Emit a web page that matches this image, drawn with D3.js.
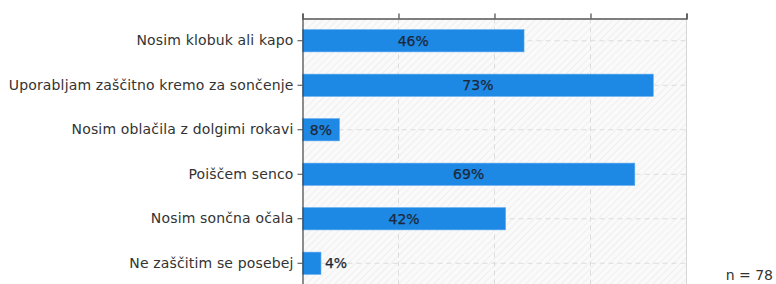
<!DOCTYPE html>
<html>
<head>
<meta charset="utf-8">
<script src="https://cdn.jsdelivr.net/npm/d3@7"></script>
<style>
body { margin: 0; background: #fff; }
svg { display: block; }
</style>
</head>
<body>
<svg id="chart" width="776" height="284"></svg>
<script>
// answers and counts (n = 78)
var categories = [
    "Nosim klobuk ali kapo",
    "Uporabljam zaščitno kremo za sončenje",
    "Nosim oblačila z dolgimi rokavi",
    "Poiščem senco",
    "Nosim sončna očala",
    "Ne zaščitim se posebej"
];
var counts = [36, 57, 6, 54, 33, 3];
var total = 78;
var xTicks = [0, 20, 40, 60, 80];

var data = categories.map(function(c, i) {
    return {name: c, pct: counts[i] / total * 100};
});

var margin = {top: 18.5, left: 302.5};
var width = 384, height = 267;

var svg = d3.select("#chart");

// hatch pattern for plot background
var defs = svg.append("defs");
var pat = defs.append("pattern")
    .attr("id", "hatch")
    .attr("patternUnits", "userSpaceOnUse")
    .attr("width", 5).attr("height", 5)
    .attr("patternTransform", "rotate(45)");
pat.append("rect").attr("width", 5).attr("height", 5).attr("fill", "#fafafa");
pat.append("line")
    .attr("x1", 0).attr("y1", 0).attr("x2", 0).attr("y2", 5)
    .attr("stroke", "#e8e8e8").attr("stroke-width", 1.2);

var g = svg.append("g")
    .attr("transform", "translate(" + margin.left + "," + margin.top + ")");

var x = d3.scaleLinear().domain([0, 80]).range([0, width]);
var y = d3.scaleBand()
    .domain(categories)
    .range([0, height])
    .paddingInner(0.5)
    .paddingOuter(0.25);

g.append("rect")
    .attr("width", width).attr("height", height + 10)
    .attr("fill", "url(#hatch)");

// grid
g.selectAll(".vgrid").data(xTicks.slice(1, -1)).enter().append("line")
    .attr("x1", function(d) { return x(d); }).attr("x2", function(d) { return x(d); })
    .attr("y1", 0).attr("y2", height + 10)
    .attr("stroke", "#dcdcdc").attr("stroke-dasharray", "5,4");

g.selectAll(".hgrid").data(categories).enter().append("line")
    .attr("x1", 0).attr("x2", width)
    .attr("y1", function(d) { return y(d) + y.bandwidth() / 2; })
    .attr("y2", function(d) { return y(d) + y.bandwidth() / 2; })
    .attr("stroke", "#dcdcdc").attr("stroke-dasharray", "5,4");

g.append("line")
    .attr("x1", width).attr("x2", width).attr("y1", 0).attr("y2", height + 10)
    .attr("stroke", "#d6d6d6");

// bars
g.selectAll(".bar").data(data).enter().append("rect")
    .attr("class", "bar")
    .attr("x", 0)
    .attr("y", function(d) { return y(d.name); })
    .attr("width", function(d) { return x(d.pct); })
    .attr("height", y.bandwidth())
    .attr("fill", "#1e88e5")
    .attr("stroke", "#5aa8ee").attr("stroke-width", 0.6);

g.selectAll(".lbl").data(data).enter().append("text")
    .attr("x", function(d) {
        return x(d.pct) > 30 ? x(d.pct) / 2 : x(d.pct) + 4;
    })
    .attr("y", function(d) { return y(d.name) + y.bandwidth() / 2; })
    .attr("dy", "0.36em")
    .attr("text-anchor", function(d) { return x(d.pct) > 30 ? "middle" : "start"; })
    .style("font-family", "'DejaVu Sans', Verdana, sans-serif")
    .style("font-size", "14px")
    .style("fill", "#1c2838")
    .style("stroke", "#1c2838").style("stroke-width", 0.25)
    .text(function(d) { return Math.round(d.pct) + "%"; });

// top axis, no labels
var xAxis = g.append("g")
    .call(d3.axisTop(x).tickValues(xTicks).tickSize(5).tickFormat(""));
xAxis.select(".domain").attr("stroke", "#555").attr("stroke-width", 1.5);
xAxis.selectAll(".tick line").attr("stroke", "#555").attr("stroke-width", 1.3);

// left axis
var yAxis = g.append("g")
    .call(d3.axisLeft(y).tickSize(5).tickSizeOuter(0).tickPadding(4));
yAxis.select(".domain").attr("stroke", "#444").attr("stroke-width", 1.2);
yAxis.selectAll(".tick line").attr("stroke", "#444");
yAxis.selectAll(".tick text")
    .style("font-family", "'DejaVu Sans', Verdana, sans-serif")
    .style("font-size", "14px")
    .style("letter-spacing", "0.15px")
    .style("fill", "#333");

svg.append("text")
    .attr("x", 773).attr("y", 280)
    .attr("text-anchor", "end")
    .style("font-family", "'DejaVu Sans', Verdana, sans-serif")
    .style("font-size", "14px")
    .style("fill", "#333")
    .text("n = " + total);
</script>
</body>
</html>
